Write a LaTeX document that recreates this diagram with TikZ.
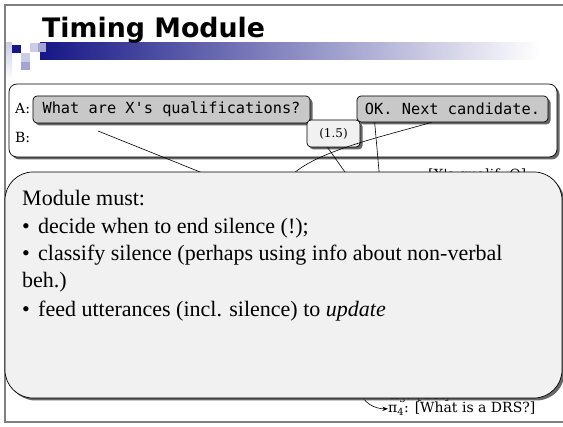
\documentclass[tikz,border=0pt]{standalone}
\usepackage{fontspec}
\setmainfont{Liberation Serif}
\setmonofont{DejaVu Sans Mono}
\newfontfamily\titlefont{DejaVu Sans}
\newfontfamily\drsfont{DejaVu Serif}
\usetikzlibrary{arrows.meta,positioning,shadows,calc}
\definecolor{navy}{RGB}{22,22,134}
\definecolor{lilac}{RGB}{204,204,230}
\definecolor{lilacmid}{RGB}{164,164,210}
\definecolor{boxgray}{RGB}{200,200,200}
\definecolor{modgray}{RGB}{241,241,241}
\definecolor{framegray}{RGB}{128,128,128}

\begin{document}
\begin{tikzpicture}[
  x=1pt, y=-1pt,
  >=Stealth,
  frame/.style={draw=framegray, line width=1.4pt},
  bubble/.style={
    draw=black, rounded corners=#1, line width=0.7pt, inner sep=0pt,
    drop shadow={shadow xshift=2.5pt, shadow yshift=-2.5pt, fill=black!70, opacity=0.85}
  },
  utt/.style={bubble=4pt, fill=boxgray, font=\ttfamily\fontsize{15.3}{17}\selectfont},
  spk/.style={anchor=base west, inner sep=0pt, font=\drsfont\fontsize{14}{16}\selectfont},
  drs/.style={anchor=base west, inner sep=0pt, font=\drsfont\fontsize{14}{16}\selectfont},
  mtxt/.style={anchor=base west, inner sep=0pt, font=\fontsize{22}{26}\selectfont},
  link/.style={draw=black, line width=0.6pt}
]
\useasboundingbox (0,0) rectangle (563,427);

% ── Slide frame and title ───────────────────────────────────────────────────
\draw[frame] (563,5) -- (5,5) -- (5,422) -- (563,422);
\shade[top color=lilac, bottom color=white] (6,43) rectangle (12,80);
\shade[left color=navy, right color=white] (40,43) rectangle (540,60);
\fill[navy]     (12,45) rectangle (21,53);
\fill[lilac]    (30,43) rectangle (38,52);
\fill[lilacmid] (38,43) rectangle (46,52);
\fill[lilac]    (21,53) rectangle (30,62);
\fill[lilacmid] (21,62) rectangle (30,70);
\node[anchor=base west, inner sep=0pt, font=\titlefont\bfseries\fontsize{26.8}{30}\selectfont]
  (title) at (42,38) {Timing Module};

% ── Dialogue: turns of A and B ──────────────────────────────────────────────
\node[bubble=8pt, fill=white, minimum width=548pt, minimum height=73pt] (dlg) at (283,120.5) {};
\node[spk] (spkA) at (15,114) {A:};
\node[spk] (spkB) at (15,143) {B:};
\node[utt, minimum width=277pt, minimum height=27pt] (qbox)  at (171.5,109.5) {What are X's qualifications?};
\node[utt, minimum width=191pt, minimum height=26pt] (okbox) at (452.5,109) {OK. Next candidate.};
\node[bubble=4pt, fill=modgray, minimum width=53pt, minimum height=27pt,
  font=\drsfont\fontsize{12}{14}\selectfont] (pause) at (333.5,133.5) {(1.5)};

% ── Links down to the (hidden) segments ─────────────────────────────────────
\coordinate (s1) at (98,131);
\coordinate (h1) at (225,182);
\coordinate (h2) at (352,182);
\coordinate (h3) at (380,182);
\coordinate (h4) at (283,186);
\draw[link] (s1) -- (h1);
\draw[link] ($(pause.south)+(-6,0)$) -- (h2);
\draw[link] ($(okbox.south west)+(18,0)$) -- (h3);
\draw[link] ($(okbox.south west)+(75,0)$) .. controls (370,140) and (300,155) .. (h4);

\node[drs, anchor=north west] (qlab) at (428,169) {[X's qualif. Q]};
\node[drs] (pi3) at (390,400) {π\textsubscript{3}: [OK]};
\node[drs] (pi4) at (388,413) {π\textsubscript{4}: [What is a DRS?]};
\coordinate (a0) at (360,390);
\draw[link, ->] (a0) to[out=-80, in=180] (pi4.west);

% ── Module box ──────────────────────────────────────────────────────────────
\node[bubble=28pt, fill=modgray, minimum width=557pt, minimum height=226pt] (mod) at (283.5,285) {};
\node[mtxt] (m0) at (22,206) {Module must:};
\node[mtxt] (m1) at (22,234) {\makebox[16pt][l]{•}decide when to end silence (!);};
\node[mtxt] (m2) at (22,261) {\makebox[16pt][l]{•}classify silence (perhaps using info about non-verbal};
\node[mtxt] (m3) at (22,288) {beh.)};
\node[mtxt] (m4) at (22,317) {\makebox[16pt][l]{•}feed utterances (incl. silence) to \textit{update}};

\end{tikzpicture}
\end{document}
